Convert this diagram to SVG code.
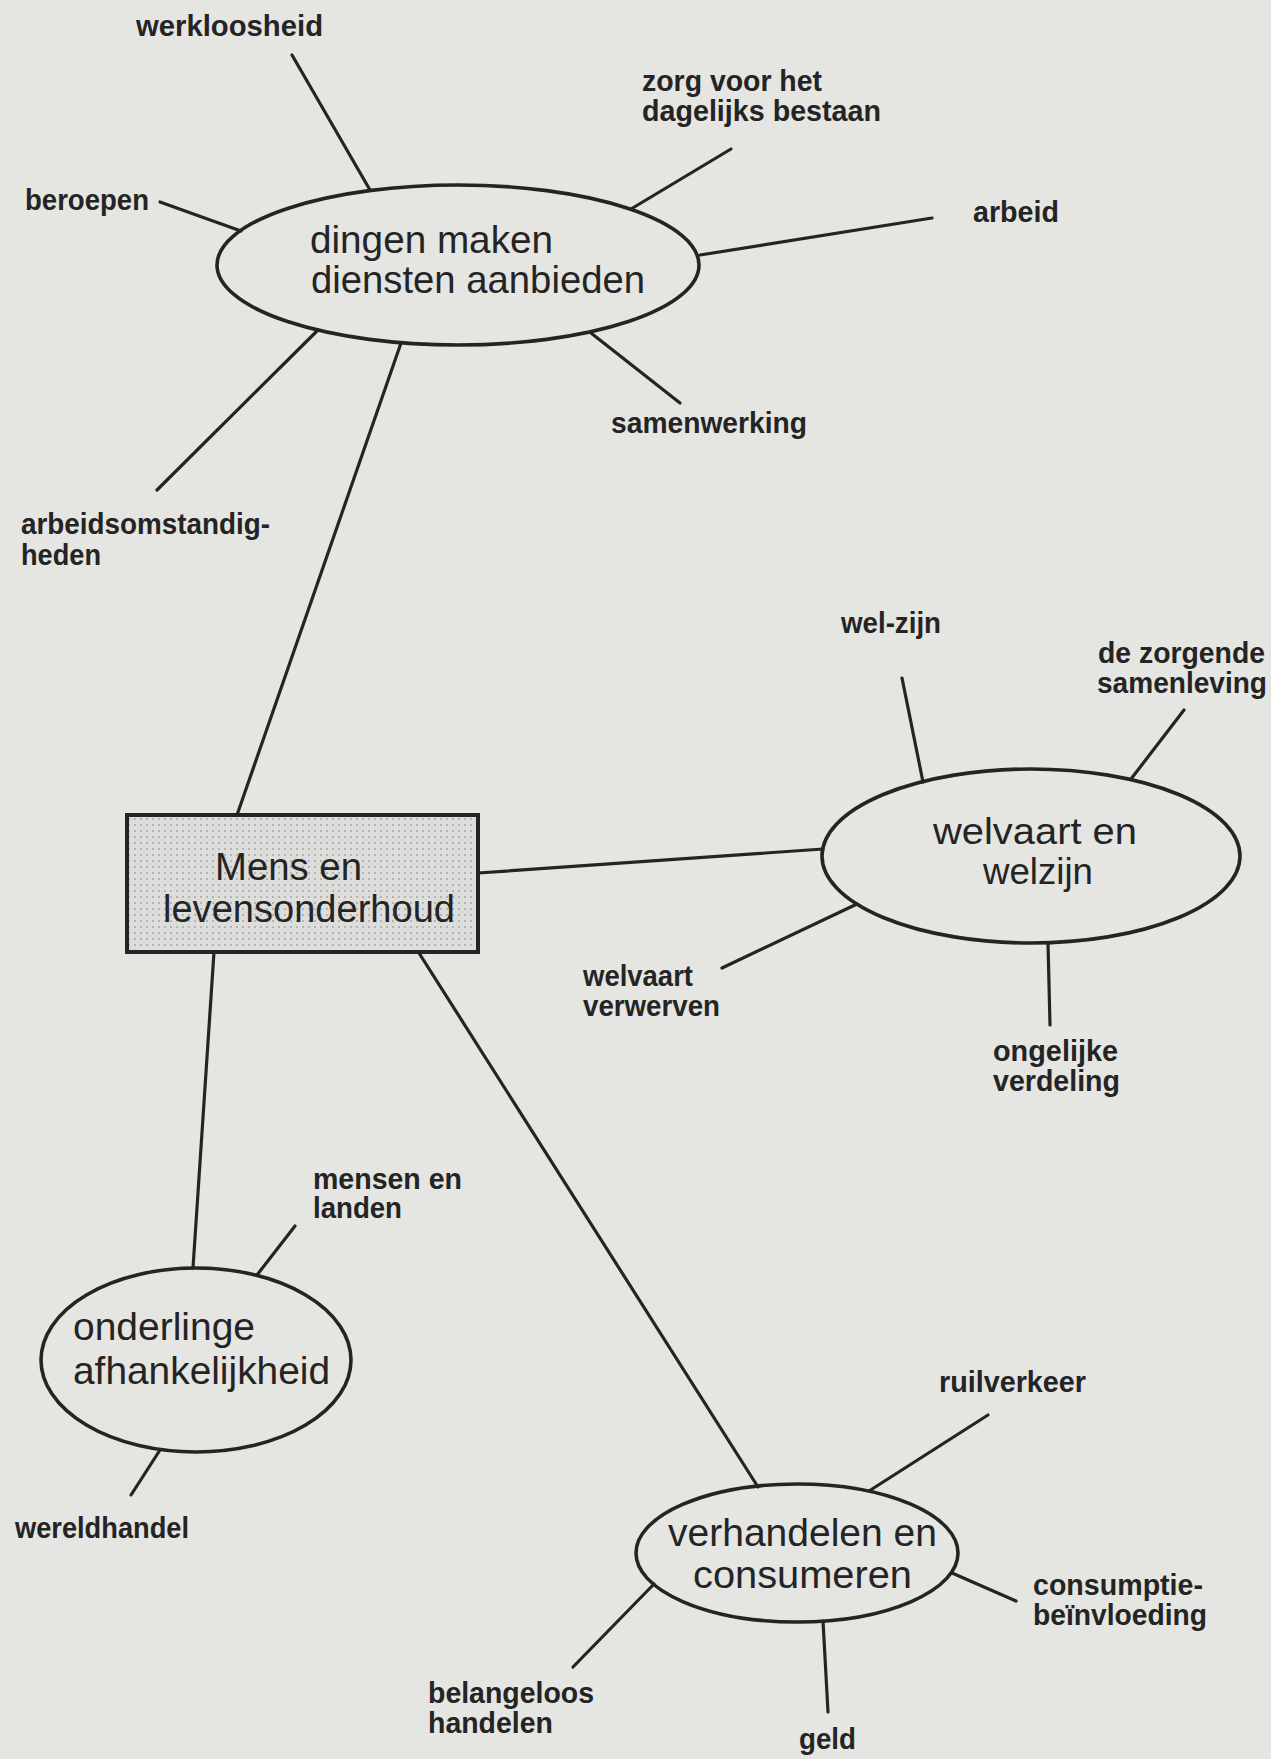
<svg xmlns="http://www.w3.org/2000/svg" width="1271" height="1759" viewBox="0 0 1271 1759">
  <style>
    .bg { fill: #e5e5e2; }
    .link { stroke: #242424; stroke-width: 3.2; stroke-linecap: round; fill: none; }
    .oval { fill: none; stroke: #242424; stroke-width: 3.6; }
    .core { fill: url(#dots); stroke: #242424; stroke-width: 4; }
    .node-text { font-family: "Liberation Sans", Arial, sans-serif; font-size: 39px; fill: #242424; }
    .node-text.tight { font-size: 37px; }
    .label { font-family: "Liberation Sans", Arial, sans-serif; font-size: 29px; font-weight: bold; fill: #242424; }
  </style>
  <defs>
    <pattern id="dots" width="6" height="6" patternUnits="userSpaceOnUse">
      <rect width="6" height="6" fill="#dddddb"/>
      <circle cx="3" cy="3" r="0.8" fill="#808080"/>
    </pattern>
  </defs>

  <rect class="bg" x="0" y="0" width="1271" height="1759"/>

  <!-- connectors -->
  <g id="connectors">
    <!-- hub to the four themes -->
    <line class="link" x1="401" y1="343" x2="237" y2="815"/>
    <line class="link" x1="478" y1="873" x2="823" y2="849"/>
    <line class="link" x1="214" y1="952" x2="193" y2="1268"/>
    <line class="link" x1="412" y1="942" x2="758" y2="1487"/>
    <!-- dingen maken / diensten aanbieden -->
    <line class="link" x1="292" y1="55" x2="370" y2="190"/>
    <line class="link" x1="731" y1="149" x2="631" y2="209"/>
    <line class="link" x1="160" y1="202" x2="241" y2="231"/>
    <line class="link" x1="932" y1="218" x2="700" y2="255"/>
    <line class="link" x1="591" y1="333" x2="680" y2="403"/>
    <line class="link" x1="318" y1="330" x2="157" y2="490"/>
    <!-- welvaart en welzijn -->
    <line class="link" x1="902" y1="678" x2="923" y2="782"/>
    <line class="link" x1="1184" y1="710" x2="1131" y2="779"/>
    <line class="link" x1="857" y1="904" x2="722" y2="968"/>
    <line class="link" x1="1048" y1="943" x2="1050" y2="1025"/>
    <!-- onderlinge afhankelijkheid -->
    <line class="link" x1="295" y1="1226" x2="257" y2="1275"/>
    <line class="link" x1="160" y1="1450" x2="131" y2="1495"/>
    <!-- verhandelen en consumeren -->
    <line class="link" x1="988" y1="1415" x2="869" y2="1491"/>
    <line class="link" x1="952" y1="1573" x2="1016" y2="1601"/>
    <line class="link" x1="654" y1="1584" x2="573" y2="1667"/>
    <line class="link" x1="823" y1="1621" x2="828" y2="1712"/>
  </g>

  <!-- central node -->
  <g id="node-mens">
    <rect class="core" x="127" y="815" width="351" height="137"/>
    <text class="node-text" x="215" y="880" textLength="147" lengthAdjust="spacingAndGlyphs">Mens en</text>
    <text class="node-text" x="163" y="922" textLength="292" lengthAdjust="spacingAndGlyphs">levensonderhoud</text>
  </g>

  <g id="node-dingen">
    <ellipse class="oval" cx="458" cy="265" rx="241" ry="80"/>
    <text class="node-text" x="310" y="253" textLength="243" lengthAdjust="spacingAndGlyphs">dingen maken</text>
    <text class="node-text" x="311" y="293" textLength="334" lengthAdjust="spacingAndGlyphs">diensten aanbieden</text>
  </g>

  <g id="node-welvaart">
    <ellipse class="oval" cx="1031" cy="856" rx="209" ry="87"/>
    <text class="node-text tight" x="933" y="844" textLength="204" lengthAdjust="spacingAndGlyphs">welvaart en</text>
    <text class="node-text tight" x="983" y="884" textLength="110" lengthAdjust="spacingAndGlyphs">welzijn</text>
  </g>

  <g id="node-onderlinge">
    <ellipse class="oval" cx="196" cy="1360" rx="155" ry="92"/>
    <text class="node-text" x="73" y="1340" textLength="182" lengthAdjust="spacingAndGlyphs">onderlinge</text>
    <text class="node-text" x="73" y="1384" textLength="257" lengthAdjust="spacingAndGlyphs">afhankelijkheid</text>
  </g>

  <g id="node-verhandelen">
    <ellipse class="oval" cx="797" cy="1553" rx="161" ry="69"/>
    <text class="node-text" x="668" y="1546" textLength="269" lengthAdjust="spacingAndGlyphs">verhandelen en</text>
    <text class="node-text" x="693" y="1588" textLength="219" lengthAdjust="spacingAndGlyphs">consumeren</text>
  </g>

  <!-- leaf labels -->
  <g id="label-werkloosheid"><text class="label" x="136" y="36" textLength="187" lengthAdjust="spacingAndGlyphs">werkloosheid</text></g>
  <g id="label-zorg">
    <text class="label" x="642" y="91" textLength="180" lengthAdjust="spacingAndGlyphs">zorg voor het</text>
    <text class="label" x="642" y="121" textLength="239" lengthAdjust="spacingAndGlyphs">dagelijks bestaan</text>
  </g>
  <g id="label-beroepen"><text class="label" x="25" y="210" textLength="124" lengthAdjust="spacingAndGlyphs">beroepen</text></g>
  <g id="label-arbeid"><text class="label" x="973" y="222" textLength="86" lengthAdjust="spacingAndGlyphs">arbeid</text></g>
  <g id="label-samenwerking"><text class="label" x="611" y="433" textLength="196" lengthAdjust="spacingAndGlyphs">samenwerking</text></g>
  <g id="label-arbeidsomstandigheden">
    <text class="label" x="21" y="534" textLength="249" lengthAdjust="spacingAndGlyphs">arbeidsomstandig-</text>
    <text class="label" x="21" y="565" textLength="80" lengthAdjust="spacingAndGlyphs">heden</text>
  </g>
  <g id="label-wel-zijn"><text class="label" x="841" y="633" textLength="100" lengthAdjust="spacingAndGlyphs">wel-zijn</text></g>
  <g id="label-zorgende">
    <text class="label" x="1098" y="663" textLength="167" lengthAdjust="spacingAndGlyphs">de zorgende</text>
    <text class="label" x="1097" y="693" textLength="170" lengthAdjust="spacingAndGlyphs">samenleving</text>
  </g>
  <g id="label-welvaart-verwerven">
    <text class="label" x="583" y="986" textLength="110" lengthAdjust="spacingAndGlyphs">welvaart</text>
    <text class="label" x="583" y="1016" textLength="137" lengthAdjust="spacingAndGlyphs">verwerven</text>
  </g>
  <g id="label-ongelijke">
    <text class="label" x="993" y="1061" textLength="125" lengthAdjust="spacingAndGlyphs">ongelijke</text>
    <text class="label" x="993" y="1091" textLength="127" lengthAdjust="spacingAndGlyphs">verdeling</text>
  </g>
  <g id="label-mensen">
    <text class="label" x="313" y="1189" textLength="149" lengthAdjust="spacingAndGlyphs">mensen en</text>
    <text class="label" x="313" y="1218" textLength="89" lengthAdjust="spacingAndGlyphs">landen</text>
  </g>
  <g id="label-wereldhandel"><text class="label" x="15" y="1538" textLength="174" lengthAdjust="spacingAndGlyphs">wereldhandel</text></g>
  <g id="label-ruilverkeer"><text class="label" x="939" y="1392" textLength="147" lengthAdjust="spacingAndGlyphs">ruilverkeer</text></g>
  <g id="label-consumptie">
    <text class="label" x="1033" y="1595" textLength="170" lengthAdjust="spacingAndGlyphs">consumptie-</text>
    <text class="label" x="1033" y="1625" textLength="174" lengthAdjust="spacingAndGlyphs">beïnvloeding</text>
  </g>
  <g id="label-belangeloos">
    <text class="label" x="428" y="1703" textLength="166" lengthAdjust="spacingAndGlyphs">belangeloos</text>
    <text class="label" x="428" y="1733" textLength="125" lengthAdjust="spacingAndGlyphs">handelen</text>
  </g>
  <g id="label-geld"><text class="label" x="799" y="1749" textLength="57" lengthAdjust="spacingAndGlyphs">geld</text></g>
</svg>
